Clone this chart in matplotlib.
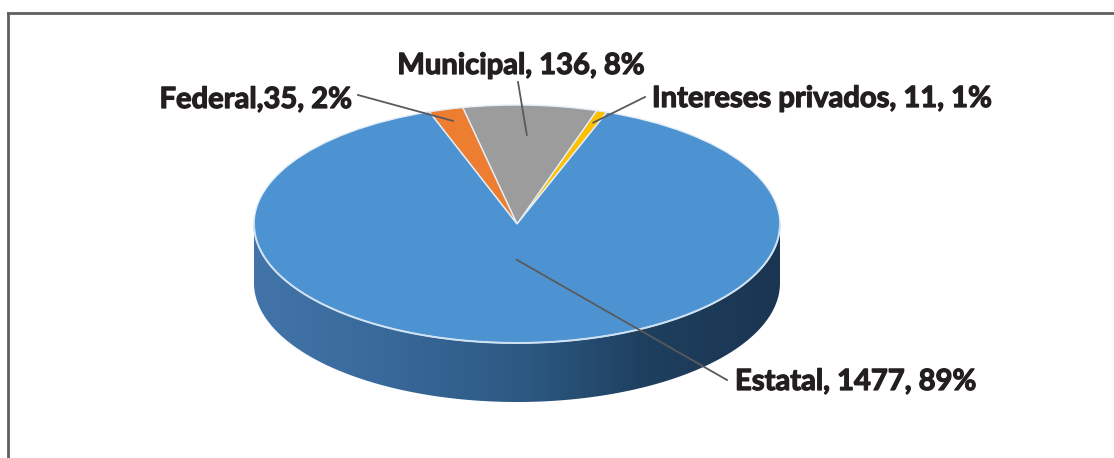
import numpy as np
import matplotlib
matplotlib.use("Agg")
import matplotlib.pyplot as plt
from matplotlib.patches import Polygon
from matplotlib.colors import LinearSegmentedColormap
from matplotlib.lines import Line2D
from matplotlib import font_manager
import matplotlib.patheffects as pe

# ---- data ----
categories = ["Intereses privados", "Municipal", "Federal", "Estatal"]
values = [11, 136, 35, 1477]
label_names = ["Intereses privados", "Municipal", "Federal", "Estatal"]
label_seps = [", ", ", ", ",", ", "]
colors = ["#FFC000", "#9C9C9C", "#ED7D31", "#4E93D1"]

# ---- layout (pixel geometry of the reference) ----
W, H = 1114, 458
CX, CY, RX, RY = 517, 224, 263, 119   # top face ellipse
DEPTH = 59                              # px thickness
START = 70

def px2d(px, py):
    return (px - CX) / RX, (CY - py) / RY

fig = plt.figure(figsize=(W / 100, H / 100), dpi=100)
ax = fig.add_axes([0, 0, 1, 1])

fams = [f.name for f in font_manager.fontManager.ttflist]
font = "Liberation Sans Narrow" if "Liberation Sans Narrow" in fams else "Lato"

d = DEPTH / RY
# side band
t = np.linspace(np.pi, 2 * np.pi, 200)
upper = np.column_stack([np.cos(t), np.sin(t)])
lower = np.column_stack([np.cos(t[::-1]), np.sin(t[::-1]) - d])
band = Polygon(np.vstack([upper, lower]), closed=True, facecolor="none", edgecolor="none")
ax.add_patch(band)
cmap = LinearSegmentedColormap.from_list("side", ["#4274A9", "#39699A", "#2D5A84", "#1E3F5E", "#1A3552"])
grad = np.linspace(0, 1, 256).reshape(1, -1)
im = ax.imshow(grad, cmap=cmap, extent=(-1, 1, -1 - d, 0), aspect="auto", zorder=1)
im.set_clip_path(band)

# top face
wedges, _ = ax.pie(values, colors=colors, startangle=START, counterclock=True, radius=1,
                   wedgeprops=dict(edgecolor="#E4EEF8", linewidth=1.0, zorder=2))
for w in wedges:
    w.set_zorder(2)
# highlight along front rim
ax.plot(np.cos(t), np.sin(t), color="#CFE2F4", lw=1.4, zorder=3)

ax.set_aspect("auto")
x0, y0 = px2d(0, H)
x1, y1 = px2d(W, 0)
ax.set_xlim(x0, x1)
ax.set_ylim(y0, y1)
ax.axis("off")

# labels
total = sum(values)
angles = []
a = START
for v in values:
    span = 360 * v / total
    angles.append(a + span / 2)
    a += span

text_pos = {  # (px, py, ha)
    "Intereses privados": (652, 99, "left"),
    "Municipal": (521, 66, "center"),
    "Federal": (352, 100, "right"),
    "Estatal": (735, 382, "left"),
}
line_start = {
    "Intereses privados": (645, 97),
    "Municipal": (518, 82),
    "Federal": (358, 95),
    "Estatal": (727, 380),
}
anchor_r = {"Intereses privados": 0.9, "Municipal": 0.75, "Federal": 0.9, "Estatal": 0.3}

for name, sep, v, ang in zip(label_names, label_seps, values, angles):
    pct = round(100 * v / total)
    txt = f"{name}{sep}{v}, {pct}%"
    px, py, ha = text_pos[name]
    tx, ty = px2d(px, py)
    ax.text(tx, ty, txt, ha=ha, va="center", fontsize=21, fontweight="bold",
            family=[font, "DejaVu Sans"], color="#231F20", zorder=5,
            path_effects=[pe.withStroke(linewidth=0.9, foreground="#231F20")])
    r = anchor_r[name]
    ex, ey = r * np.cos(np.radians(ang)), r * np.sin(np.radians(ang))
    sx, sy = px2d(*line_start[name])
    ax.plot([sx, ex], [sy, ey], color="#5A5A5A", lw=1.3, zorder=4)

# frame
fig.add_artist(Line2D([7.5 / W, 7.5 / W], [0, 1 - 12.5 / H], color="#5F5F5F", lw=2))
fig.add_artist(Line2D([7.5 / W, 1], [1 - 12.5 / H, 1 - 12.5 / H], color="#5F5F5F", lw=2))

fig.savefig("out.png", dpi=100, facecolor="white")
